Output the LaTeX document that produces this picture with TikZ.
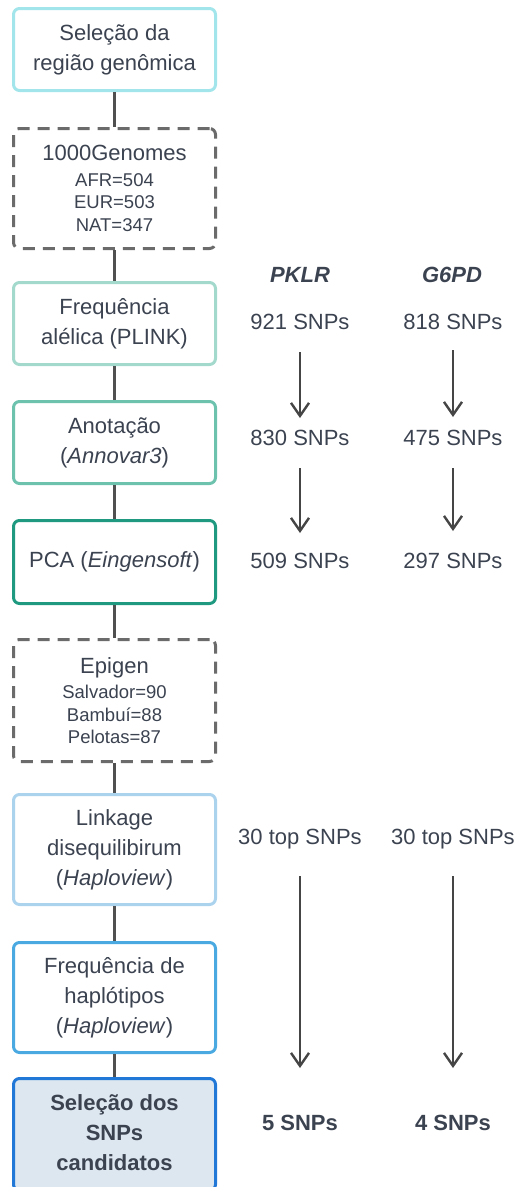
\documentclass[tikz,border=0pt]{standalone}
\usepackage{fontspec}
\setmainfont{Liberation Sans}
\usetikzlibrary{arrows.meta}

\definecolor{txt}{HTML}{3B4250}
\definecolor{linkc}{HTML}{505050}
\definecolor{arrc}{HTML}{454545}
\definecolor{dashc}{HTML}{6B6B6B}
\definecolor{cA}{HTML}{A2E5EA}
\definecolor{cB}{HTML}{A3D9CC}
\definecolor{cC}{HTML}{6DC2AE}
\definecolor{cD}{HTML}{1F9A80}
\definecolor{cE}{HTML}{ABD3EE}
\definecolor{cF}{HTML}{4AA9E0}
\definecolor{cG}{HTML}{2178D6}
\definecolor{fillG}{HTML}{DDE7F0}

\newcommand{\bigtxt}{\fontsize{22}{30}\selectfont}
\newcommand{\smalltxt}{\fontsize{18.5}{22.5}\selectfont}

\tikzset{
  stagebox/.style={draw=#1, line width=3pt, rounded corners=6pt, fill=white,
    minimum width=202pt, align=center, text=txt, inner sep=0pt,
    font=\bigtxt},
  databox/.style={draw=dashc, line width=3pt, rounded corners=6pt, fill=white,
    dash pattern=on 12pt off 8pt, minimum width=202pt, align=center,
    text=txt, inner sep=0pt, font=\smalltxt},
  link/.style={draw=linkc, line width=3pt},
  count/.style={text=txt, font=\bigtxt, inner sep=0pt},
  flow/.style={draw=arrc, line width=2.4pt,
    -{Straight Barb[length=13pt,width=18pt,line width=2.4pt]}},
}

\begin{document}
\begin{tikzpicture}[x=1pt,y=-1pt]
\useasboundingbox (0,0) rectangle (520,1187);
\clip (0,0) rectangle (520,1187);

% pipeline stages
\node[stagebox=cA, minimum height=82pt] (regiao) at (114.5,49.5)
  {Seleção da\\região genômica};
\node[databox, minimum height=120pt] (kg) at (114.5,188.5)
  {{\bigtxt 1000Genomes}\\[3pt]AFR=504\\EUR=503\\NAT=347};
\node[stagebox=cB, minimum height=82pt] (freq) at (114.5,323.5)
  {Frequência\\alélica (PLINK)};
\node[stagebox=cC, minimum height=82pt] (anot) at (114.5,442.5)
  {Anotação\\(\textit{Annovar3})};
\node[stagebox=cD, minimum height=83pt] (pca) at (114.5,562)
  {PCA (\textit{Eingensoft})};
\node[databox, minimum height=122pt] (epi) at (114.5,700.5)
  {{\bigtxt Epigen}\\[3pt]Salvador=90\\Bambuí=88\\Pelotas=87};
\node[stagebox=cE, minimum height=110pt] (ld) at (114.5,849.5)
  {Linkage\\disequilibirum\\(\textit{Haploview})};
\node[stagebox=cF, minimum height=110pt] (hap) at (114.5,997.5)
  {Frequência de\\haplótipos\\(\textit{Haploview})};
\node[stagebox=cG, fill=fillG, minimum height=112pt, font=\bigtxt\bfseries,
  text depth=4pt] (sel) at (114.5,1134.5)
  {Seleção dos\\SNPs\\candidatos};

% stage links
\draw[link] (regiao) -- (kg);
\draw[link] (kg) -- (freq);
\draw[link] (freq) -- (anot);
\draw[link] (anot) -- (pca);
\draw[link] (pca) -- (epi);
\draw[link] (epi) -- (ld);
\draw[link] (ld) -- (hap);
\draw[link] (hap) -- (sel);

% gene columns
\node[count, font=\bigtxt\bfseries\itshape] (pklr) at (300,275) {PKLR};
\node[count, font=\bigtxt\bfseries\itshape] (g6pd) at (452,275) {G6PD};

\node[count] (p1) at (300,322) {921 SNPs};
\node[count] (p2) at (300,438) {830 SNPs};
\node[count] (p3) at (300,561) {509 SNPs};
\node[count] (p4) at (300,839) {30 top SNPs};
\node[count, font=\bigtxt\bfseries] (p5) at (300,1123) {5 SNPs};

\node[count] (g1) at (453,322) {818 SNPs};
\node[count] (g2) at (453,438) {475 SNPs};
\node[count] (g3) at (453,561) {297 SNPs};
\node[count] (g4) at (453,839) {30 top SNPs};
\node[count, font=\bigtxt\bfseries] (g5) at (453,1123) {4 SNPs};

\draw[flow] ([yshift=-30pt]p1.center) -- ([yshift=20pt]p2.center);
\draw[flow] ([yshift=-30pt]p2.center) -- ([yshift=28pt]p3.center);
\draw[flow] ([yshift=-37pt]p4.center) -- ([yshift=55pt]p5.center);
\draw[flow] ([yshift=-28pt]g1.center) -- ([yshift=21pt]g2.center);
\draw[flow] ([yshift=-30pt]g2.center) -- ([yshift=30pt]g3.center);
\draw[flow] ([yshift=-37pt]g4.center) -- ([yshift=55pt]g5.center);
\end{tikzpicture}
\end{document}
